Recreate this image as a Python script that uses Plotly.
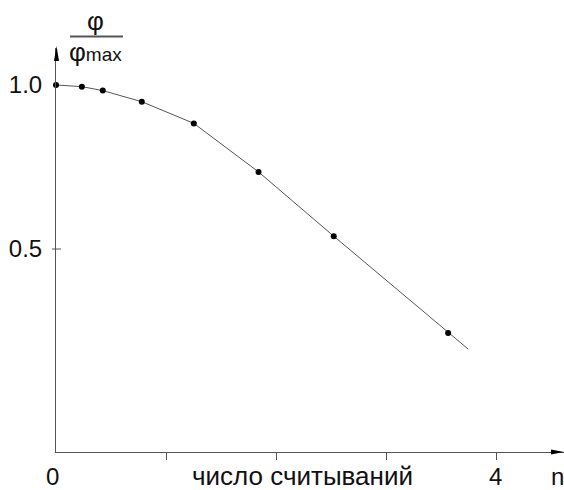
import plotly.graph_objects as go

# measured points (n, phi/phi_max)
n_vals = [0.0, 0.235, 0.425, 0.78, 1.253, 1.841, 2.525, 3.565]
ratio_vals = [1.0, 0.995, 0.983, 0.949, 0.883, 0.735, 0.539, 0.244]
# end of the drawn curve beyond the last point
tail_n = [3.747]
tail_ratio = [0.195]

x_ticks = [1, 2, 3, 4]
x_labels = {0: "0", 4: "4"}
y_ticks = [0.5, 1.0]
y_ticktext = ["0.5", "1.0"]

W, H = 564, 490
L, R, T, B = 56, 0, 48, 38
PW, PH = W - L - R, H - T - B

def px(x):
    return (x - L) / PW

def py(y):
    return (H - B - y) / PH

FONT = "Liberation Sans, Arial, sans-serif"
AX = "#555555"
TXT = "#111111"
FS = 24
LABEL_Y = 476

fig = go.Figure()
fig.add_trace(go.Scatter(x=n_vals + tail_n, y=ratio_vals + tail_ratio, mode="lines",
                         line=dict(color="#555555", width=1), hoverinfo="skip"))
fig.add_trace(go.Scatter(x=n_vals, y=ratio_vals, mode="markers",
                         marker=dict(color="black", size=6), cliponaxis=False))

fig.update_layout(
    width=W, height=H, margin=dict(l=L, r=R, t=T, b=B, autoexpand=False),
    paper_bgcolor="white", plot_bgcolor="white", showlegend=False,
    font=dict(family=FONT, size=FS, color=TXT),
    xaxis=dict(range=[0, PW / 110], showgrid=False, zeroline=False, showline=True,
               automargin=False,
               linecolor=AX, linewidth=1, ticks="outside", ticklen=7, tickcolor=AX,
               tickvals=x_ticks, showticklabels=False),
    yaxis=dict(range=[1 - (H - B - 85) / 328, 1 + (85 - T) / 328], showgrid=False,
               automargin=False,
               zeroline=False, showline=True, linecolor=AX, linewidth=1, ticks="",
               tickvals=y_ticks, ticktext=y_ticktext, ticklabelstandoff=8,
               tickfont=dict(size=FS, color=TXT)),
)

shapes = [
    # arrowheads
    dict(type="path", xref="paper", yref="paper",
         path=f"M {px(551)} {py(449.5)} L {px(564)} {py(452)} L {px(551)} {py(454.5)} Z",
         fillcolor="black", line=dict(width=0)),
    dict(type="path", xref="paper", yref="paper",
         path=f"M {px(54)} {py(61)} L {px(56.5)} {py(46)} L {px(59)} {py(61)} Z",
         fillcolor="black", line=dict(width=0)),
    # y tick at 0.5 crossing the axis
    dict(type="line", xref="paper", yref="y", x0=px(52), x1=px(61), y0=0.5, y1=0.5,
         line=dict(color=AX, width=1)),
    # fraction bar
    dict(type="line", xref="paper", yref="paper", x0=px(70), x1=px(123), y0=py(36.5), y1=py(36.5),
         line=dict(color=AX, width=2)),
]
fig.update_layout(shapes=shapes)

ann = [
    dict(text="φ", x=px(95), y=py(21), xref="paper", yref="paper", showarrow=False,
         xanchor="center", yanchor="middle", font=dict(size=26)),
    dict(text="φ<span style='font-size:19px'>max</span>", x=px(95), y=py(52), xref="paper",
         yref="paper", showarrow=False, xanchor="center", yanchor="middle", font=dict(size=26)),
    dict(text="число считываний", x=px(302), y=py(LABEL_Y), xref="paper", yref="paper",
         showarrow=False, xanchor="center", yanchor="middle", font=dict(size=26)),
    dict(text="n", x=px(549), y=py(LABEL_Y), xref="paper", yref="paper", showarrow=False,
         xanchor="left", yanchor="middle", font=dict(size=FS)),
]
for xv, lab in x_labels.items():
    ann.append(dict(text=lab, x=xv, xref="x", y=py(LABEL_Y), yref="paper", showarrow=False,
                    xshift=-4 if xv == 0 else -1, xanchor="center", yanchor="middle",
                    font=dict(size=FS)))
fig.update_layout(annotations=ann)

fig.write_html("out.html")
